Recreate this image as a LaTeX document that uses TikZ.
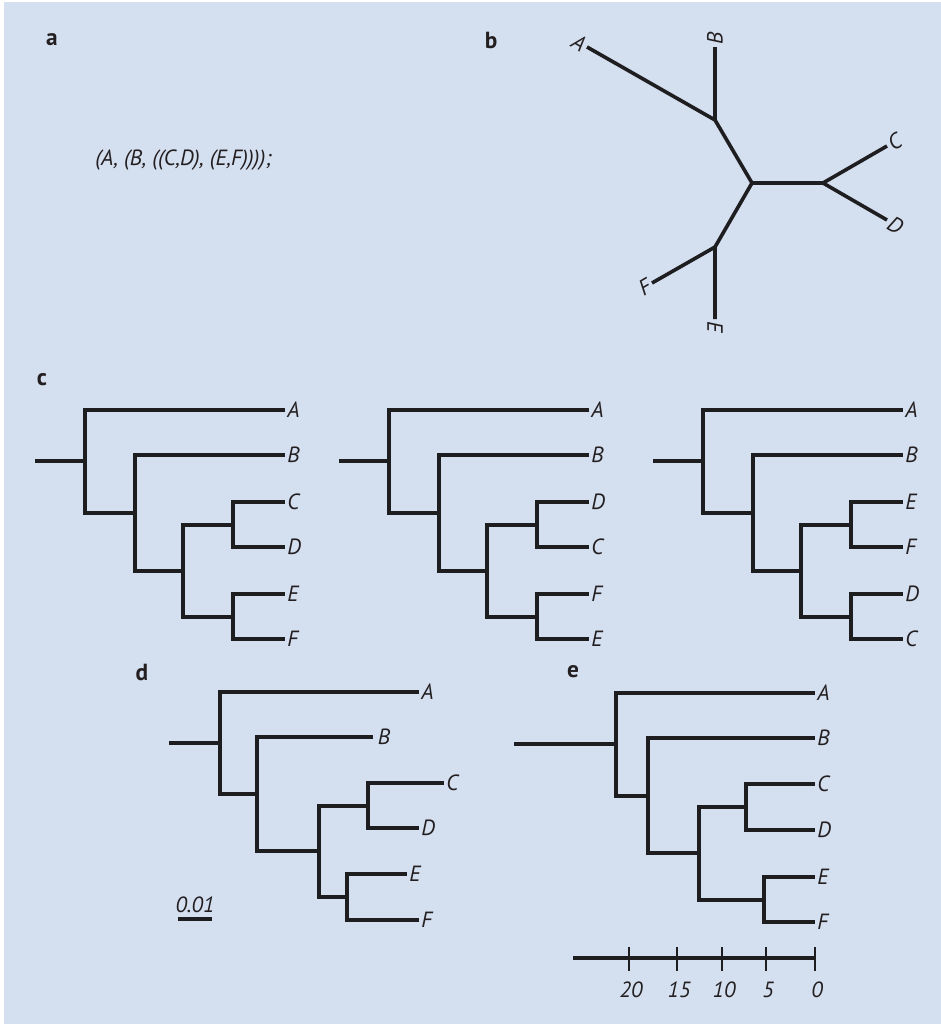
\documentclass[tikz,border=0pt]{standalone}
\usepackage{fontspec}
\setmainfont{PT Sans}
\definecolor{bgc}{RGB}{212,223,240}
\definecolor{lc}{RGB}{30,30,32}
\definecolor{tc}{RGB}{35,31,32}
\newcommand\tipfnt{\fontsize{16.5}{19}\selectfont\itshape}
\newcommand\labfnt{\fontsize{17.5}{20}\selectfont\bfseries}
\tikzset{
  br/.style={line width=3pt, draw=lc, line join=miter},
  rb/.style={line width=2.7pt, draw=lc, line join=miter},
  tip/.style={font=\tipfnt, text=tc, inner sep=1.5pt, anchor=west},
  rtip/.style={font=\tipfnt, text=tc, inner sep=2pt},
  plab/.style={font=\labfnt, text=tc, inner sep=0pt},
  tick/.style={line width=1pt, draw=lc},
}
\newcommand\ctree[8]{%
\begin{scope}[shift={(#2,0)}]
\node[tip] (#1A) at (285,410) {#3};
\node[tip] (#1B) at (285,455) {#4};
\node[tip] (#1C) at (285,502) {#5};
\node[tip] (#1D) at (285,547) {#6};
\node[tip] (#1E) at (285,594) {#7};
\node[tip] (#1F) at (285,639) {#8};
\coordinate (#1n4) at (233,524.5);
\coordinate (#1n5) at (233,616.5);
\coordinate (#1n3) at (183,570.5);
\coordinate (#1n2) at (135,512.5);
\coordinate (#1n1) at (85,461.25);
\coordinate (#1r) at (35,461.25);
\draw[br] (#1C.west) -| (#1n4) |- (#1D.west);
\draw[br] (#1E.west) -| (#1n5) |- (#1F.west);
\draw[br] (#1n4) -| (#1n3) |- (#1n5);
\draw[br] (#1B.west) -| (#1n2) |- (#1n3);
\draw[br] (#1A.west) -| (#1n1) |- (#1n2);
\draw[br] (#1r) -- (#1n1);
\end{scope}}
\begin{document}
\begin{tikzpicture}[x=0.75pt,y=-0.75pt]
\useasboundingbox (0,0) rectangle (941,1024);
\fill[white] (0,0) rectangle (941,1024);
\fill[bgc] (4,2) rectangle (941,1024);
% panel labels
\node[plab] (la) at (52,40) {a};
\node[plab] (lb) at (491,40) {b};
\node[plab] (lc) at (42,380) {c};
\node[plab] (ld) at (142,672) {d};
\node[plab] (le) at (573,672) {e};
% panel a
\node[font=\tipfnt, text=tc, anchor=west, inner sep=0pt] (newick) at (95,160) {(A, (B, ((C,D), (E,F))));};
% panel b
\coordinate (bA) at (587,47);
\coordinate (bB) at (715,47);
\coordinate (bAB) at (715,120);
\coordinate (bO) at (752,183);
\coordinate (bCD) at (823,183);
\coordinate (bC) at (887,146);
\coordinate (bD) at (887,220);
\coordinate (bEF) at (715,247);
\coordinate (bF) at (652,283);
\coordinate (bE) at (715,319);
\draw[rb] (bA) -- (bAB) -- (bO) -- (bEF) -- (bE);
\draw[rb] (bB) -- (bAB);
\draw[rb] (bO) -- (bCD) -- (bC);
\draw[rb] (bCD) -- (bD);
\draw[rb] (bEF) -- (bF);
\node[rtip, rotate=-30, anchor=east] (blA) at (bA) {A};
\node[rtip, rotate=90, anchor=west] (blB) at (bB) {B};
\node[rtip, rotate=30, anchor=west] (blC) at (bC) {C};
\node[rtip, rotate=-30, anchor=west] (blD) at (bD) {D};
\node[rtip, rotate=30, anchor=east] (blF) at (bF) {F};
\node[rtip, rotate=-90, anchor=west] (blE) at (bE) {E};
% panel c
\ctree{ca}{0}{A}{B}{C}{D}{E}{F}
\ctree{cb}{304}{A}{B}{D}{C}{F}{E}
\ctree{cc}{618}{A}{B}{E}{F}{D}{C}
% panel d
\node[tip] (dA) at (419,692) {A};
\node[tip, inner sep=3.5pt] (dB) at (373,737) {B};
\node[tip] (dC) at (444,783) {C};
\node[tip] (dD) at (419,828) {D};
\node[tip] (dE) at (407,874) {E};
\node[tip] (dF) at (419,920) {F};
\coordinate (dCD) at (368,805.5);
\coordinate (dEF) at (347,897);
\coordinate (d3) at (319,851.25);
\coordinate (d2) at (257,794.1);
\coordinate (d1) at (220,743.1);
\coordinate (dr) at (169,743.1);
\draw[br] (dC.west) -| (dCD) |- (dD.west);
\draw[br] (dE.west) -| (dEF) |- (dF.west);
\draw[br] (dCD) -| (d3) |- (dEF);
\draw[br] (dB.west) -| (d2) |- (d3);
\draw[br] (dA.west) -| (d1) |- (d2);
\draw[br] (dr) -- (d1);
\node[font=\tipfnt, text=tc, inner sep=0pt] (dsc) at (195,905) {0.01};
\coordinate (dsL) at (178,919);
\coordinate (dsR) at (212,919);
\draw[br] (dsL) -- (dsR);
% panel e
\node[tip] (eA) at (815,693) {A};
\node[tip] (eB) at (815,738) {B};
\node[tip] (eC) at (815,784) {C};
\node[tip] (eD) at (815,830) {D};
\node[tip] (eE) at (815,877) {E};
\node[tip] (eF) at (815,922) {F};
\coordinate (eCD) at (746,807);
\coordinate (eEF) at (764,899.5);
\coordinate (e3) at (699,853.25);
\coordinate (e2) at (648,795.6);
\coordinate (e1) at (616,744.3);
\coordinate (er) at (514,744.3);
\draw[br] (eC.west) -| (eCD) |- (eD.west);
\draw[br] (eE.west) -| (eEF) |- (eF.west);
\draw[br] (eCD) -| (e3) |- (eEF);
\draw[br] (eB.west) -| (e2) |- (e3);
\draw[br] (eA.west) -| (e1) |- (e2);
\draw[br] (er) -- (e1);
% time axis
\coordinate (axL) at (573,958);
\coordinate (axR) at (815,958);
\draw[br] (axL) -- (axR);
\foreach \xx/\lab in {629/20,677/15,722/10,766/5,815/0}{
  \draw[tick] (\xx,947) -- (\xx,971);
  \node[font=\tipfnt, text=tc, inner sep=0pt] (ax\lab) at (\xx+2,990) {\lab};
}
\end{tikzpicture}
\end{document}
